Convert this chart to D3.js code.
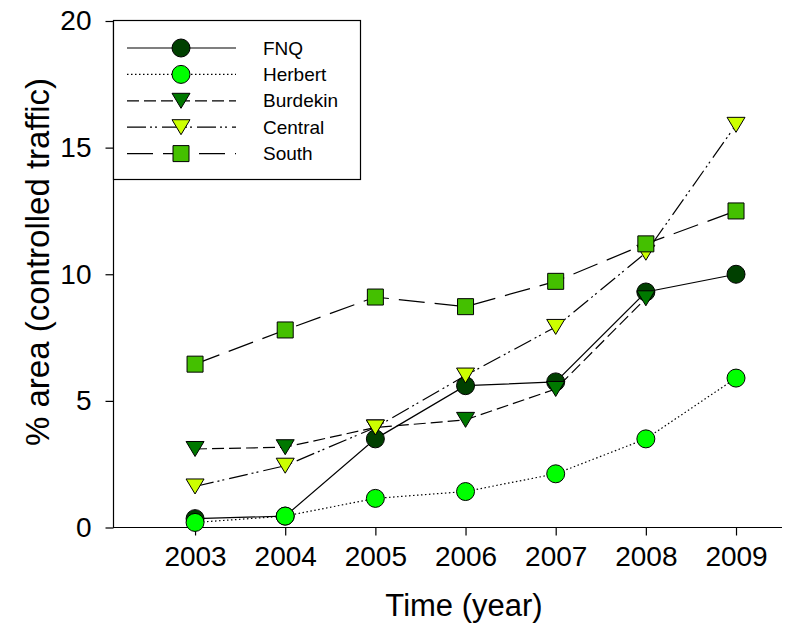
<!DOCTYPE html>
<html>
<head>
<meta charset="utf-8">
<script src="https://cdn.jsdelivr.net/npm/d3@7"></script>
<style>
  body { margin: 0; background: #fff; }
  text { font-family: Arial, "Liberation Sans", sans-serif; fill: #000; }
</style>
</head>
<body>
<svg id="chart" width="806" height="633"></svg>
<script>
// Share of cane area under controlled traffic, by region
const years = [2003, 2004, 2005, 2006, 2007, 2008, 2009];
const fnq      = [0.35, 0.45, 3.5, 5.6, 5.75, 9.3, 10.0];
const herbert  = [0.2, 0.45, 1.15, 1.42, 2.12, 3.5, 5.9];
const burdekin = [3.1, 3.17, 3.95, 4.25, 5.47, 9.05, null];
const central  = [1.62, 2.44, 3.95, 6.0, 7.92, 10.85, 15.9];
const south    = [6.45, 7.8, 9.1, 8.72, 9.72, 11.2, 12.5];
const yTicks = [0, 5, 10, 15, 20];

const series = [
  { name: "FNQ",      values: fnq,      shape: "circle",   fill: "#004000", dash: null },
  { name: "Herbert",  values: herbert,  shape: "circle",   fill: "#00ff00", dash: "1.5,2.5" },
  { name: "Burdekin", values: burdekin, shape: "triangle", fill: "#007800", dash: "12,5" },
  { name: "Central",  values: central,  shape: "triangle", fill: "#ccff00", dash: "19,4,2,3,2,5" },
  { name: "South",    values: south,    shape: "square",   fill: "#44c000", dash: "26,10" }
];

const svg = d3.select("#chart");

const x = d3.scaleLinear().domain([2002.09, 2009.51]).range([113, 782]);
const y = d3.scaleLinear().domain([0, 20]).range([527.5, 21]);

// marker path generators, centred on the origin
function markerPath(shape) {
  if (shape === "circle") return d3.symbol().type(d3.symbolCircle).size(Math.PI * 81)();
  if (shape === "square") return "M-8,-8H8V8H-8Z";
  return "M-9,-7.5H9L0,7.5Z"; // downward triangle
}

// axes
const yAxis = d3.axisLeft(y).tickValues(yTicks).tickSize(8).tickPadding(14).tickFormat(d3.format("d"));
const xAxis = d3.axisBottom(x).tickValues(years).tickSize(8).tickPadding(11).tickFormat(d3.format("d"));

const gy = svg.append("g").attr("transform", `translate(${x.range()[0] + 0.5},0)`).call(yAxis);
const gx = svg.append("g").attr("transform", `translate(0,${y(0)})`).call(xAxis);

[gx, gy].forEach(g => {
  g.select(".domain").attr("stroke", "#000").attr("stroke-width", 1.2);
  g.selectAll(".tick line").attr("stroke", "#000").attr("stroke-width", 1.2);
  g.selectAll(".tick text").attr("font-size", 28).attr("font-family", "Arial, 'Liberation Sans', sans-serif").attr("fill", "#000");
});
// plain axis lines (no end caps)
gy.select(".domain").attr("d", `M0,${y(20)}V${y(0)}`);
gx.select(".domain").attr("d", `M${x.range()[0]},0H${x.range()[1]}`);

// axis titles
svg.append("text")
  .attr("transform", "translate(40,262) rotate(-90)")
  .attr("text-anchor", "middle")
  .attr("dominant-baseline", "middle")
  .attr("font-size", 33)
  .text("% area (controlled traffic)");

svg.append("text")
  .attr("x", 464)
  .attr("y", 616)
  .attr("text-anchor", "middle")
  .attr("font-size", 31)
  .text("Time (year)");

// lines and markers, one series after another
const line = d3.line()
  .defined(d => d.v !== null)
  .x(d => x(d.year))
  .y(d => y(d.v));

series.forEach(s => {
  const pts = years.map((yr, i) => ({ year: yr, v: s.values[i] }));
  const g = svg.append("g");
  g.append("path")
    .attr("d", line(pts))
    .attr("fill", "none")
    .attr("stroke", "#000")
    .attr("stroke-width", 1.2)
    .attr("stroke-dasharray", s.dash);
  g.selectAll("path.mk")
    .data(pts.filter(d => d.v !== null))
    .join("path")
    .attr("class", "mk")
    .attr("d", markerPath(s.shape))
    .attr("transform", d => `translate(${x(d.year)},${y(d.v)})`)
    .attr("fill", s.fill)
    .attr("stroke", "#000")
    .attr("stroke-width", 1);
});

// legend
const lg = svg.append("g");
lg.append("rect")
  .attr("x", 113.5).attr("y", 20.5)
  .attr("width", 247).attr("height", 159)
  .attr("fill", "#fff").attr("stroke", "#000").attr("stroke-width", 1.2);

series.forEach((s, i) => {
  const cy = 48 + i * 26.4;
  const row = lg.append("g");
  row.append("line")
    .attr("x1", 127).attr("x2", 236)
    .attr("y1", cy).attr("y2", cy)
    .attr("stroke", "#000").attr("stroke-width", 1.2)
    .attr("stroke-dasharray", s.dash);
  row.append("path")
    .attr("d", markerPath(s.shape))
    .attr("transform", `translate(181,${cy})`)
    .attr("fill", s.fill).attr("stroke", "#000").attr("stroke-width", 1);
  row.append("text")
    .attr("x", 263).attr("y", cy)
    .attr("dominant-baseline", "central")
    .attr("font-size", 19)
    .text(s.name);
});
</script>
</body>
</html>
